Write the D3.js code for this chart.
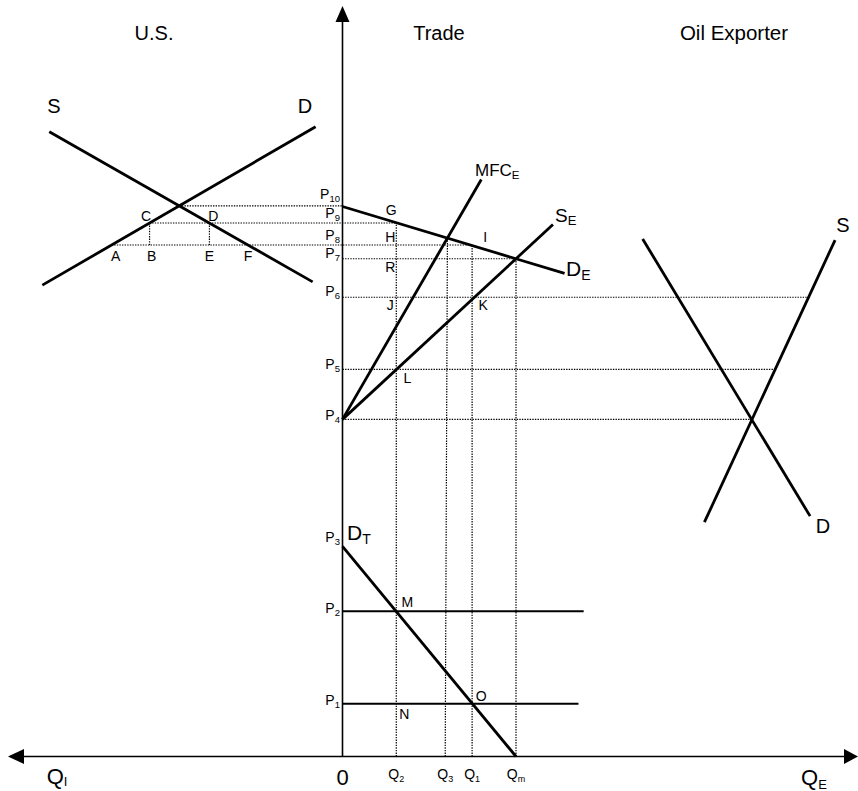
<!DOCTYPE html>
<html>
<head>
<meta charset="utf-8">
<script src="https://cdn.jsdelivr.net/npm/d3@7"></script>
<style>
  body { margin: 0; background: #fff; }
  svg text { font-family: "Liberation Sans", Arial, Helvetica, sans-serif; fill: #000; }
</style>
</head>
<body>
<div class="chart"></div>
<script>
// price levels (0 = horizontal axis, P10 = 100)
const priceNames = ['P1', 'P2', 'P3', 'P4', 'P5', 'P6', 'P7', 'P8', 'P9', 'P10'];
const priceValues = [9.6, 26.4, 38.2, 61.3, 70.4, 83.5, 90.5, 93.0, 97.0, 100];

// quantity levels on the trade axis (Qm = 100)
const qtyNames = ['Q2', 'Q3', 'Q1', 'Qm'];
const qtyValues = [31, 59.2, 74.7, 100];

// curves: [q, p] end points (US quantities run to the left, negative)
const usSupply = [[-169, 113.6], [-17.2, 86.3]];
const usDemand = [[-173, 85.7], [-15.5, 114.5]];
const exSupply = [[208.6, 42.6], [283.9, 93.9]];
const exDemand = [[173, 94.1], [269.5, 43.7]];
const tradeDemandEnd = 128;   // D_E 끝 (q)
const tradeSupplyEnd = 121.3; // S_E 끝 (q)
const mfcEnd = [80, 104.9];   // MFC_E 끝

const W = 858, H = 791;
const P = {};
priceNames.forEach((n, i) => P[n] = priceValues[i]);
const Q = {};
qtyNames.forEach((n, i) => Q[n] = qtyValues[i]);

const x = d3.scaleLinear().domain([0, 100]).range([342.5, 516]);
const y = d3.scaleLinear().domain([0, 100]).range([756.5, 206.5]);

const svg = d3.select('.chart').append('svg')
  .attr('width', W).attr('height', H);

/******************** helpers ********************/
const pAt = (l, q) => l[0][1] + (l[1][1] - l[0][1]) * (q - l[0][0]) / (l[1][0] - l[0][0]);
const qAt = (l, p) => l[0][0] + (l[1][0] - l[0][0]) * (p - l[0][1]) / (l[1][1] - l[0][1]);
const cross = (a, b) => {
  const sa = (a[1][1] - a[0][1]) / (a[1][0] - a[0][0]);
  const sb = (b[1][1] - b[0][1]) / (b[1][0] - b[0][0]);
  const q = (b[0][1] - a[0][1] + sa * a[0][0] - sb * b[0][0]) / (sa - sb);
  return [q, pAt(a, q)];
};

// trade panel lines
const DE = [[0, P.P10], [Q.Qm, P.P7]];
const SE = [[0, P.P4], [Q.Qm, P.P7]];
const MFC = [[0, P.P4], mfcEnd];
const DT = [[0, P.P3], [Q.Qm, 0]];
const deLine = [DE[0], [tradeDemandEnd, pAt(DE, tradeDemandEnd)]];
const seLine = [SE[0], [tradeSupplyEnd, pAt(SE, tradeSupplyEnd)]];

const usEq = cross(usSupply, usDemand);
const mfcDe = cross(MFC, DE);

const line = d3.line().x(d => x(d[0])).y(d => y(d[1]));

/******************** dotted guides ********************/
const dotted = [
  [usEq, [0, usEq[1]]],
  [[qAt(usDemand, P.P9), P.P9], [Q.Q2, P.P9]],
  [[qAt(usDemand, P.P8), P.P8], [Q.Q1, P.P8]],
  [[qAt(usDemand, P.P9), P.P9], [qAt(usDemand, P.P9), P.P8]],
  [[qAt(usSupply, P.P9), P.P9], [qAt(usSupply, P.P9), P.P8]],
  [[0, P.P7], [Q.Qm, P.P7]],
  [[0, P.P6], [qAt(exSupply, P.P6), P.P6]],
  [[0, P.P5], [qAt(exSupply, P.P5), P.P5]],
  [[0, P.P4], [qAt(exSupply, P.P4), P.P4]],
  [[Q.Q2, 0], [Q.Q2, P.P9]],
  [[Q.Q3, 0], mfcDe],
  [[Q.Q1, 0], [Q.Q1, P.P8]],
  [[Q.Qm, 0], [Q.Qm, P.P7]]
];
svg.append('g')
  .selectAll('path')
  .data(dotted)
  .join('path')
    .attr('d', line)
    .attr('fill', 'none')
    .attr('stroke', '#000')
    .attr('stroke-width', 1.2)
    .attr('stroke-dasharray', '1.4,1.2');

/******************** axes ********************/
const ax = svg.append('g').attr('stroke', '#000').attr('stroke-width', 1.6);
ax.append('line').attr('x1', 10).attr('x2', W - 8).attr('y1', y(0)).attr('y2', y(0));
ax.append('line').attr('x1', x(0)).attr('x2', x(0)).attr('y1', y(0)).attr('y2', 18);
svg.append('path')
  .attr('d', `M${x(0)},6 L${x(0) - 7},22 L${x(0) + 7},22 Z`);
svg.append('path')
  .attr('d', `M8,${y(0)} L24,${y(0) - 7.5} L24,${y(0) + 7.5} Z`);
svg.append('path')
  .attr('d', `M${W},${y(0)} L${W - 14},${y(0) - 7.5} L${W - 14},${y(0) + 7.5} Z`);

/******************** curves ********************/
svg.append('g')
  .selectAll('path')
  .data([usSupply, usDemand, exSupply, exDemand, deLine, seLine, MFC, DT])
  .join('path')
    .attr('d', line)
    .attr('fill', 'none')
    .attr('stroke', '#000')
    .attr('stroke-width', 2.8);

// P2, P1 horizontal lines
svg.append('g')
  .selectAll('path')
  .data([[[0, P.P2], [139, P.P2]], [[0, P.P1], [136, P.P1]]])
  .join('path')
    .attr('d', line)
    .attr('stroke', '#000')
    .attr('stroke-width', 2);

/******************** text ********************/
const label = (g, tx, ty, main, sub, size, subSize, anchor = 'middle', subDy = 4) => {
  const t = g.append('text')
    .attr('x', tx).attr('y', ty)
    .attr('text-anchor', anchor)
    .attr('font-size', size);
  t.append('tspan').text(main);
  if (sub) t.append('tspan').attr('font-size', subSize).attr('dy', subDy).text(sub);
  return t;
};
const tg = svg.append('g');

// panel titles
label(tg, 154, 40, 'U.S.', null, 20);
label(tg, 439, 40, 'Trade', null, 20);
label(tg, 734, 40, 'Oil Exporter', null, 20.5);

// price labels
const pShift = {P10: -7.5, P9: -5.5, P8: -5, P7: -0.5, P6: -1, P5: 0, P4: 0.5, P3: -4, P2: 2, P1: 1};
priceNames.forEach(n => {
  label(tg, 340, y(P[n]) + pShift[n], 'P', n.slice(1), 14, 9.5, 'end', 3);
});

// quantity labels
qtyNames.forEach(n => {
  label(tg, x(Q[n]), 779, 'Q', n.slice(1), 14, 9, 'middle', 3);
});
label(tg, x(0), 785, '0', null, 22);
label(tg, 57, 784, 'Q', 'I', 22, 13, 'middle', 2);
label(tg, 814, 785, 'Q', 'E', 22, 13, 'middle', 4);

// curve labels
label(tg, 54, 113, 'S', null, 20);
label(tg, 305, 113, 'D', null, 20);
label(tg, 843, 232, 'S', null, 20);
label(tg, 823, 533, 'D', null, 20);
label(tg, 475, 176, 'MFC', 'E', 17, 11.5, 'start', 3);
label(tg, 555, 222, 'S', 'E', 19, 13, 'start', 3);
label(tg, 566, 276, 'D', 'E', 21, 14, 'start', 4);
label(tg, 347, 540, 'D', 'T', 21, 14, 'start', 4);

// point labels
const ptLabels = [
  ['C', qAt(usDemand, P.P9), P.P9, -3.5, -2],
  ['D', qAt(usSupply, P.P9), P.P9, 4, -2],
  ['A', qAt(usDemand, P.P8), P.P8, 4, 16],
  ['B', qAt(usDemand, P.P9), P.P8, 2, 16],
  ['E', qAt(usSupply, P.P9), P.P8, 0, 16],
  ['F', qAt(usSupply, P.P8), P.P8, 0, 16],
  ['G', Q.Q2, P.P9, -5, -8],
  ['H', Q.Q2, P.P8, -6, -3],
  ['I', Q.Q1, P.P8, 13, -3],
  ['R', Q.Q2, P.P7, -6, 13.5],
  ['J', Q.Q2, P.P6, -6, 13],
  ['K', Q.Q1, P.P6, 11, 13],
  ['L', Q.Q2, P.P5, 11, 14],
  ['M', Q.Q2, P.P2, 11, -4],
  ['N', Q.Q2, P.P1, 8, 15],
  ['O', Q.Q1, P.P1, 9, -3]
];
ptLabels.forEach(([t, q, p, dx, dy]) => {
  label(tg, x(q) + dx, y(p) + dy, t, null, 14);
});
</script>
</body>
</html>
